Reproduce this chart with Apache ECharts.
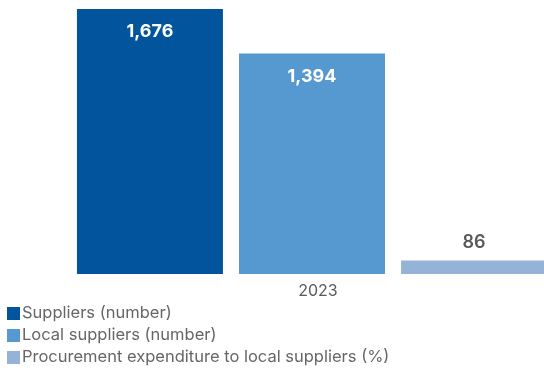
<!DOCTYPE html>
<html>
<head>
<meta charset="utf-8">
<script src="https://cdn.jsdelivr.net/npm/echarts@6/dist/echarts.min.js"></script>
<style>
  html, body { margin: 0; padding: 0; background: #ffffff; }
  #chart { width: 544px; height: 370px; }
</style>
</head>
<body>
<div id="chart"></div>
<script>
// Supplier figures for the reporting year
const categories = ['2023'];
const seriesNames = [
  'Suppliers (number)',
  'Local suppliers (number)',
  'Procurement expenditure to local suppliers (%)'
];
const suppliers = [1676];
const localSuppliers = [1394];
const localSpendShare = [86];
const seriesColors = ['#02549c', '#5699d0', '#95b3d7'];

const chart = echarts.init(document.getElementById('chart'), null, { renderer: 'canvas' });

const FONT = 'Inter, Roboto, "Noto Sans", sans-serif';

function fmt(v) {
  return Number(v).toLocaleString('en-US');
}

const seriesValues = [suppliers, localSuppliers, localSpendShare];

const series = seriesValues.map((vals, i) => {
  const inside = i < 2;
  return {
    name: seriesNames[i],
    type: 'bar',
    data: vals,
    barWidth: 146,
    barGap: (16 / 146 * 100).toFixed(1) + '%',
    clip: false,
    itemStyle: { color: seriesColors[i] },
    label: {
      show: true,
      position: inside ? 'insideTop' : 'top',
      distance: inside ? 14 : 9,
      formatter: p => fmt(p.value),
      color: inside ? '#ffffff' : '#595959',
      fontFamily: FONT,
      fontSize: 18,
      fontWeight: inside ? 'bold' : 600
    },
    emphasis: { disabled: true },
    animation: false
  };
});

chart.setOption({
  animation: false,
  grid: { left: 80, right: 0, top: 9, bottom: 96, containLabel: false },
  xAxis: {
    type: 'category',
    data: categories,
    axisLine: { show: false },
    axisTick: { show: false },
    axisLabel: {
      margin: 9,
      color: '#595959',
      fontFamily: FONT,
      fontSize: 16,
      padding: [0, 0, 0, 12]
    }
  },
  yAxis: {
    type: 'value',
    min: 0,
    max: 1676,
    show: false,
    splitLine: { show: false }
  },
  legend: {
    orient: 'vertical',
    left: 2,
    top: 300,
    height: 120,
    itemWidth: 13,
    itemHeight: 13,
    itemGap: 5,
    icon: 'rect',
    selectedMode: false,
    data: seriesNames,
    textStyle: {
      color: '#666666',
      fontFamily: FONT,
      fontSize: 16.5,
      lineHeight: 13,
      padding: [0, 0, 0, -3]
    }
  },
  series: series
});
</script>
</body>
</html>
